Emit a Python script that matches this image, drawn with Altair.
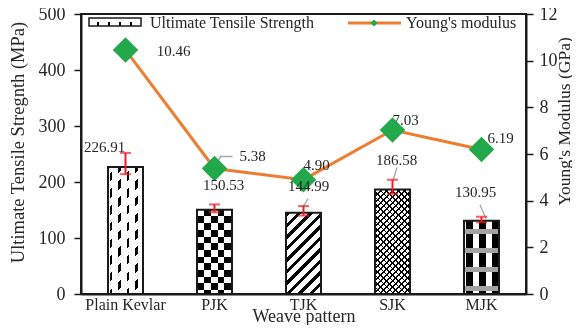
import math
import altair as alt
import pandas as pd

# ---------------- data ----------------
categories = ["Plain Kevlar", "PJK", "TJK", "SJK", "MJK"]
uts = [226.91, 150.53, 144.99, 186.58, 130.95]
uts_err_high = [252.0, 160.0, 157.0, 204.0, 138.0]
uts_err_low = [214.0, 146.0, 140.0, 179.0, 128.0]
youngs = [10.46, 5.38, 4.90, 7.03, 6.19]

df = pd.DataFrame({
    "cat": categories,
    "uts": uts,
    "hi": uts_err_high,
    "lo": uts_err_low,
    "ym": youngs,
})

# ---------------- style ----------------
W, H = 445, 280
PAD_L, PAD_T = 73, 6
TOTAL_W, TOTAL_H = 564, 317
BAR_W = 35
FONT = "Liberation Serif"
INK = "#1a1a1a"
TXT = "#262626"
ORANGE = "#ED7D31"
GREEN = "#22A94B"
RED = "#EE1C25"
LEADER = "#a6a6a6"
WHITE = "#ffffff"
BLACK = "#000000"
CLEAR = "rgba(255,255,255,0)"
UTS_MAX, YM_MAX = 500, 12


def stops_from_intervals(intervals, total, on, off):
    iv = []
    for a, b in intervals:
        a, b = max(a, 0.0), min(b, total)
        if b > a:
            iv.append((a, b))
    iv.sort()
    st = []
    if not iv or iv[0][0] > 0:
        st.append((0.0, off))
    for a, b in iv:
        if a > 0:
            st.append((a / total, off))
        st.append((a / total, on))
        st.append((b / total, on))
        if b < total:
            st.append((b / total, off))
    if not iv or iv[-1][1] < total:
        st.append((1.0, off))
    return [{"offset": round(o, 5), "color": c} for o, c in st]


def periodic(total, period, width, phase=0.0):
    out = []
    k = math.floor(-phase / period) - 1
    s = phase + k * period
    while s < total:
        out.append((s, s + width))
        s += period
    return out


def g_vertical(stops):
    return {"gradient": "linear", "x1": 0, "y1": 0, "x2": 1, "y2": 0, "stops": stops}


def g_horizontal(stops):
    return {"gradient": "linear", "x1": 0, "y1": 0, "x2": 0, "y2": 1, "stops": stops}


def g_diag_up(stops, w, h):
    k = (w + h) / (w * w + h * h)
    return {"gradient": "linear", "x1": 0, "y1": 0, "x2": round(k * w, 5), "y2": round(k * h, 5), "stops": stops}


def g_diag_down(stops, w, h):
    k = (w + h) / (w * w + h * h)
    return {"gradient": "linear", "x1": 0, "y1": 1, "x2": round(k * w, 5), "y2": round(1 - k * h, 5), "stops": stops}


def bar_h(v):
    return v / UTS_MAX * H


x_enc = alt.X(
    "cat:N",
    scale=alt.Scale(domain=categories, paddingInner=0.1, paddingOuter=0.05),
    axis=alt.Axis(
        title="Weave pattern", labelAngle=0, ticks=False, domainWidth=2,
        labelFontSize=16, labelPadding=2, titleFontSize=18,
        titleBaseline="alphabetic", titleY=27,
    ),
)
y_left = alt.Y(
    "uts:Q",
    scale=alt.Scale(domain=[0, UTS_MAX]),
    axis=alt.Axis(
        title="Ultimate Tensile Stregnth (MPa)", values=[0, 100, 200, 300, 400, 500],
        tickSize=7, tickWidth=1.5, domainWidth=2, labelFontSize=18, labelPadding=9,
        titleFontSize=18.5, titleX=-64, titleY=128, titleBaseline="middle", titleAlign="center",
        titleAngle=270,
    ),
)

base = alt.Chart(df)

# ---------- patterned bars ----------
w = BAR_W
hs = {c: bar_h(v) for c, v in zip(categories, uts)}
patterns = {}
h = hs["Plain Kevlar"]
patterns["Plain Kevlar"] = [
    (g_vertical(stops_from_intervals([(2, 4.2), (10.5, 12.7), (19, 21.2), (27.5, 29.7)], w, BLACK, WHITE)), None),
    (g_diag_up(stops_from_intervals(periodic(w + h, 16.7, 8.35), w + h, WHITE, CLEAR), w, h), None),
]
h = hs["PJK"]
patterns["PJK"] = [
    (g_vertical(stops_from_intervals(periodic(w, 13.4, 6.7, 0.5), w, BLACK, WHITE)), None),
    (g_horizontal(stops_from_intervals(periodic(h, 13.4, 6.7, 0.0), h, WHITE, CLEAR)), "difference"),
]
h = hs["TJK"]
patterns["TJK"] = [
    (g_diag_up(stops_from_intervals(periodic(w + h, 11.5, 4.6), w + h, BLACK, WHITE), w, h), None),
]
h = hs["SJK"]
patterns["SJK"] = [
    (g_diag_up(stops_from_intervals(periodic(w + h, 6.0, 1.5), w + h, BLACK, WHITE), w, h), None),
    (g_diag_down(stops_from_intervals(periodic(w + h, 6.0, 1.5), w + h, BLACK, CLEAR), w, h), None),
]
h = hs["MJK"]
patterns["MJK"] = [
    (g_vertical(stops_from_intervals(periodic(w, 13.0, 6.5, 2.0), w, BLACK, WHITE)), None),
    (g_horizontal(stops_from_intervals(periodic(h, 19.0, 5.0, 8.0), h, "#a3a3a3", CLEAR)), None),
]

left_layers = []
for c in categories:
    for fill, blend in patterns[c]:
        kw = dict(size=BAR_W, fill=fill, strokeWidth=0)
        if blend:
            kw["blend"] = blend
        left_layers.append(
            base.transform_filter(alt.datum.cat == c).mark_bar(**kw).encode(x=x_enc, y=y_left)
        )

outline = base.mark_bar(size=BAR_W, fillOpacity=0, stroke=INK, strokeWidth=2).encode(x=x_enc, y=y_left)
err_rule = base.mark_rule(color=RED, strokeWidth=2).encode(
    x=x_enc, y=alt.Y("lo:Q", scale=alt.Scale(domain=[0, UTS_MAX])), y2="hi:Q"
)
cap_hi = base.mark_tick(color=RED, size=11, thickness=2).encode(
    x=x_enc, y=alt.Y("hi:Q", scale=alt.Scale(domain=[0, UTS_MAX]))
)
cap_lo = base.mark_tick(color=RED, size=11, thickness=2).encode(
    x=x_enc, y=alt.Y("lo:Q", scale=alt.Scale(domain=[0, UTS_MAX]))
)

# leader lines (label callouts), anchored at each bar top through the scales
bar_leaders = {"TJK": "M4.5,-14L-0.5,-6", "SJK": "M4.5,-22L0.5,-9", "MJK": "M-1.5,-16L4.5,-2"}
leader_layers = [
    base.transform_filter(alt.datum.cat == c)
    .mark_point(shape=p, size=4, filled=False, stroke=LEADER, strokeWidth=1.3, opacity=1)
    .encode(x=x_enc, y=y_left)
    for c, p in bar_leaders.items()
]
left = alt.layer(*left_layers, outline, *leader_layers, err_rule, cap_hi, cap_lo)

# ---------- Young's modulus line ----------
y_right = alt.Y(
    "ym:Q",
    scale=alt.Scale(domain=[0, YM_MAX]),
    axis=alt.Axis(
        title="Young's Modulus (GPa)", orient="right", values=[0, 2, 4, 6, 8, 10, 12],
        tickSize=7, tickWidth=1.5, domainWidth=2, labelFontSize=18, labelPadding=6,
        titleFontSize=17.5, titleAngle=270, titleX=38, titleY=107,
        titleBaseline="middle", titleAlign="center",
    ),
)
line = base.mark_line(color=ORANGE, strokeWidth=3).encode(x=x_enc, y=y_right)
ym_leader = (
    base.transform_filter(alt.datum.cat == "PJK")
    .mark_point(shape="M1,-2L6,-12L18,-12", size=4, filled=False, stroke=LEADER, strokeWidth=1.5, opacity=1)
    .encode(x=x_enc, y=y_right)
)
ym_offsets = {"Plain Kevlar": (48, 1), "PJK": (38, -12), "TJK": (13, -15), "SJK": (13, -10), "MJK": (19, -12)}
ym_labels = [
    base.transform_filter(alt.datum.cat == c)
    .mark_text(font=FONT, fontSize=15, color=TXT, dx=ym_offsets[c][0], dy=ym_offsets[c][1])
    .encode(x=x_enc, y=y_right, text=alt.Text("ym:Q", format=".2f"))
    for c in categories
]
points = base.mark_point(shape="diamond", filled=True, size=650, color=GREEN, opacity=1).encode(x=x_enc, y=y_right)
right = alt.layer(line, ym_leader, *ym_labels, points)

# ---------- bar value labels ----------
y_lab = alt.Y("uts:Q", scale=alt.Scale(domain=[0, UTS_MAX]), axis=None)
uts_offsets = {"Plain Kevlar": (-21, -20), "PJK": (9, -25), "TJK": (5, -27), "SJK": (4, -30), "MJK": (-6, -29)}
uts_labels = alt.layer(*[
    base.transform_filter(alt.datum.cat == c)
    .mark_text(font=FONT, fontSize=15, color=TXT, dx=uts_offsets[c][0], dy=uts_offsets[c][1])
    .encode(x=x_enc, y=y_lab, text=alt.Text("uts:Q", format=".2f"))
    for c in categories
])

# ---------- legend ----------
one = alt.Chart(pd.DataFrame({"k": [0]}))
leg_box = one.mark_rect(fill=WHITE, stroke=INK, strokeWidth=1.5).encode(
    x=alt.value(8), x2=alt.value(60), y=alt.value(4), y2=alt.value(12)
)
leg_dash = one.mark_rect(
    fill=g_vertical(stops_from_intervals([(8, 10), (19, 21), (30, 32), (41, 43)], 52, BLACK, CLEAR))
).encode(x=alt.value(8), x2=alt.value(60), y=alt.value(8), y2=alt.value(12))
leg_t1 = one.mark_text(font=FONT, fontSize=16, color=TXT, align="left", baseline="middle").encode(
    x=alt.value(69), y=alt.value(9), text=alt.value("Ultimate Tensile Strength")
)
leg_line = one.mark_rule(color=ORANGE, strokeWidth=3).encode(
    x=alt.value(267), x2=alt.value(320), y=alt.value(9)
)
leg_pt = one.mark_point(shape="diamond", filled=True, size=50, color=GREEN, opacity=1).encode(
    x=alt.value(293), y=alt.value(9)
)
leg_t2 = one.mark_text(font=FONT, fontSize=16, color=TXT, align="left", baseline="middle").encode(
    x=alt.value(325), y=alt.value(9), text=alt.value("Young's modulus")
)
legend = alt.layer(leg_box, leg_dash, leg_t1, leg_line, leg_pt, leg_t2)

chart = (
    alt.layer(left, right, uts_labels, legend)
    .resolve_scale(y="independent")
    .properties(
        width=W, height=H,
        autosize=alt.AutoSizeParams(type="none"),
        padding={"left": PAD_L, "top": PAD_T,
                 "right": TOTAL_W - PAD_L - W, "bottom": TOTAL_H - PAD_T - H},
    )
    .configure_view(stroke=INK, strokeWidth=2)
    .configure_axis(
        labelFont=FONT, titleFont=FONT, labelColor=TXT, titleColor=TXT,
        domainColor=INK, tickColor=INK, grid=False, titleFontWeight="normal",
    )
)

chart.save("out.html", embed_options={"renderer": "svg", "actions": False})
